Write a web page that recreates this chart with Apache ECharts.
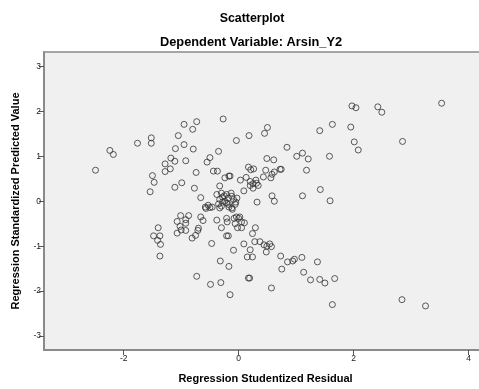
<!DOCTYPE html>
<html>
<head>
<meta charset="UTF-8">
<title>Scatterplot</title>
<script src="https://cdn.jsdelivr.net/npm/echarts@6/dist/echarts.min.js"></script>
<style>
html, body {
	margin: 0;
	padding: 0;
	background: #ffffff;
}

#main {
	width: 479px;
	height: 389px;
}
</style>
</head>
<body>
	<div id="main"></div>
	<script>
		// studentized residual (x) / standardized predicted value (y)
		var residual = [
			-2.49, -2.24, -2.18, -1.76, -1.52, -1.52, -1.50, -1.47, -1.54, -1.28,
			-1.28, -1.19, -1.18, -1.11, -1.11, -1.10, -1.05, -0.95, -0.95, -0.92,
			-0.99, -0.80, -0.73, -0.79, -0.74, -0.77, -0.66, -0.55, -0.50, -0.44,
			-0.37, -0.35, -0.27, -0.24, -0.17, -0.15, -0.33, -0.04, 0.18, 0.03,
			0.09, 0.17, 0.21, 0.26, 0.13, 0.20, 0.30, 0.25, 0.31, 0.20,
			0.34, 0.25, 0.32, 0.58, 0.62, 1.11, 1.42, 1.59, 3.53, 1.97,
			2.04, 2.42, 2.49, 1.63, 1.41, 1.95, 2.01, 2.08, 2.85, 0.50,
			0.45, 0.84, 1.11, 1.01, 1.21, 1.58, 0.49, 0.61, 1.18, 0.72,
			0.74, 0.47, 0.62, 0.58, 0.56, 0.43, 0.02, 0.05, 0.10, 0.05,
			0.29, 0.24, 0.09, 0.28, 0.37, 0.44, 0.49, 0.54, 0.57, 0.48,
			0.20, 0.15, 0.24, 0.73, 0.75, 0.85, 0.94, 0.97, 1.10, 1.37,
			1.13, 1.25, 1.41, 1.50, 1.67, 0.17, 0.19, 0.57, 1.63, 2.84,
			3.25, -1.40, -1.48, -1.37, -1.41, -1.36, -1.37, -1.07, -1.01, -0.92,
			-0.87, -0.92, -1.02, -1.00, -0.92, -1.07, -0.81, -0.75, -0.71, -0.70,
			-0.66, -0.62, -0.47, -0.38, -0.30, -0.21, -0.20, -0.21, -0.18, -0.09,
			-0.32, -0.17, -0.73, -0.49, -0.31, -0.15, -0.08, -0.04, 0.00, -0.06,
			-0.02, -0.58, -0.53, -0.46, -0.38, -0.30, -0.28, -0.21, -0.18, -0.12,
			-0.09, -0.03, -0.24, -0.33, -0.35, -0.30, -0.18, -0.12, -0.06, -0.28,
			-0.21, -0.33, -0.17, -0.11, -0.57, -0.50, -0.13, -0.25, -0.05
		];
		var predicted = [
			0.69, 1.13, 1.04, 1.29, 1.41, 1.29, 0.57, 0.42, 0.21, 0.83,
			0.66, 0.72, 0.96, 0.89, 0.31, 1.17, 1.46, 1.71, 1.26, 0.90,
			0.41, 1.60, 1.77, 1.16, 0.64, 0.29, 0.08, 0.87, 0.97, 0.67,
			0.67, 1.11, 1.83, 0.52, 0.56, 0.56, 0.34, 1.35, 1.46, 0.47,
			0.23, 0.76, 0.70, 0.72, 0.53, 0.44, 0.47, 0.39, 0.40, 0.35,
			0.35, 0.29, -0.02, 0.12, 0.00, 0.12, 0.26, 0.01, 2.18, 2.12,
			2.08, 2.10, 1.98, 1.71, 1.57, 1.65, 1.32, 1.14, 1.33, 1.64,
			1.51, 1.20, 1.07, 1.00, 0.94, 1.00, 0.95, 0.92, 0.69, 0.71,
			0.71, 0.69, 0.65, 0.60, 0.52, 0.54, -0.35, -0.46, -0.48, -0.59,
			-0.59, -0.72, -0.95, -0.90, -0.90, -0.97, -1.00, -0.95, -1.01, -1.13,
			-1.08, -1.24, -1.24, -1.22, -1.51, -1.35, -1.33, -1.29, -1.25, -1.35,
			-1.58, -1.75, -1.74, -1.82, -1.72, -1.71, -1.71, -1.93, -2.30, -2.19,
			-2.33, -0.59, -0.77, -0.77, -0.87, -0.96, -1.22, -0.45, -0.32, -0.41,
			-0.32, -0.49, -0.56, -0.64, -0.65, -0.71, -0.82, -0.76, -0.65, -0.60,
			-0.35, -0.43, -0.94, -0.42, -0.59, -0.38, -0.46, -0.77, -0.77, -1.09,
			-1.33, -1.45, -1.67, -1.85, -1.81, -2.08, -0.38, -0.35, -0.38, -0.50,
			-0.59, -0.13, -0.09, -0.13, 0.15, 0.18, 0.09, 0.15, 0.07, 0.11,
			0.04, 0.07, 0.00, 0.04, -0.06, -0.11, -0.07, -0.15, -0.07, -0.02,
			-0.04, -0.15, -0.13, -0.18, -0.16, -0.14, 0.18, 0.12, -0.02
		];
		var xTicks = [ -2, 0, 2, 4 ];
		var yTicks = [ -3, -2, -1, 0, 1, 2, 3 ];

		var points = [];
		for (var i = 0; i < residual.length; i++) {
			points.push([ residual[i], predicted[i] ]);
		}

		var tickLabel = {
			color : '#222222',
			fontSize : 8.5,
			fontFamily : 'Liberation Sans'
		};
		var nameStyle = {
			color : '#000000',
			fontSize : 11,
			fontWeight : 'bold',
			fontFamily : 'Liberation Sans'
		};
		var edge = {
			color : '#8a8a8a',
			width : 2
		};

		var option = {
			animation : false,
			backgroundColor : '#ffffff',
			title : [ {
				text : 'Scatterplot',
				left : 247,
				top : 8,
				textAlign : 'center',
				textStyle : {
					fontSize : 12.4,
					fontWeight : 'bold',
					color : '#000000',
					fontFamily : 'Liberation Sans'
				}
			}, {
				text : 'Dependent Variable: Arsin_Y2',
				left : 246,
				top : 31,
				textAlign : 'center',
				textStyle : {
					fontSize : 12.8,
					fontWeight : 'bold',
					color : '#000000',
					fontFamily : 'Liberation Sans'
				}
			} ],
			grid : {
				left : 44,
				top : 52,
				right : 0,
				bottom : 35,
				show : true,
				backgroundColor : '#F0F0F0',
				borderWidth : 0
			},
			xAxis : [ {
				type : 'value',
				min : -3.386,
				max : 4.18,
				name : 'Regression Studentized Residual',
				nameLocation : 'middle',
				nameGap : 23,
				nameTextStyle : Object.assign({
					padding : [ 0, 0, 0, 8 ]
				}, nameStyle),
				axisLine : {
					show : true,
					onZero : false,
					lineStyle : edge
				},
				axisTick : {
					show : true,
					length : 5,
					customValues : xTicks,
					lineStyle : {
						color : '#555555'
					}
				},
				axisLabel : Object.assign({
					customValues : xTicks,
					margin : 4
				}, tickLabel),
				splitLine : {
					show : false
				}
			}, {
				// top frame line only
				type : 'value',
				position : 'top',
				min : -3.386,
				max : 4.18,
				axisLine : {
					show : true,
					onZero : false,
					lineStyle : {
						color : '#8a8a8a',
						width : 1.5
					}
				},
				axisTick : {
					show : false
				},
				axisLabel : {
					show : false
				},
				splitLine : {
					show : false
				}
			} ],
			yAxis : {
				type : 'value',
				min : -3.31,
				max : 3.32,
				name : 'Regression Standardized Predicted Value',
				nameLocation : 'middle',
				nameGap : 23,
				nameTextStyle : nameStyle,
				axisLine : {
					show : true,
					onZero : false,
					lineStyle : edge
				},
				axisTick : {
					show : true,
					length : 5,
					customValues : yTicks,
					lineStyle : {
						color : '#555555'
					}
				},
				axisLabel : Object.assign({
					customValues : yTicks,
					margin : 3
				}, tickLabel),
				splitLine : {
					show : false
				}
			},
			series : [ {
				type : 'scatter',
				data : points,
				symbol : 'circle',
				symbolSize : 6,
				itemStyle : {
					color : 'transparent',
					borderColor : '#333333',
					borderWidth : 1
				}
			} ]
		};

		var mychart = echarts.init(document.getElementById('main'));
		mychart.setOption(option);
	</script>
</body>
</html>
